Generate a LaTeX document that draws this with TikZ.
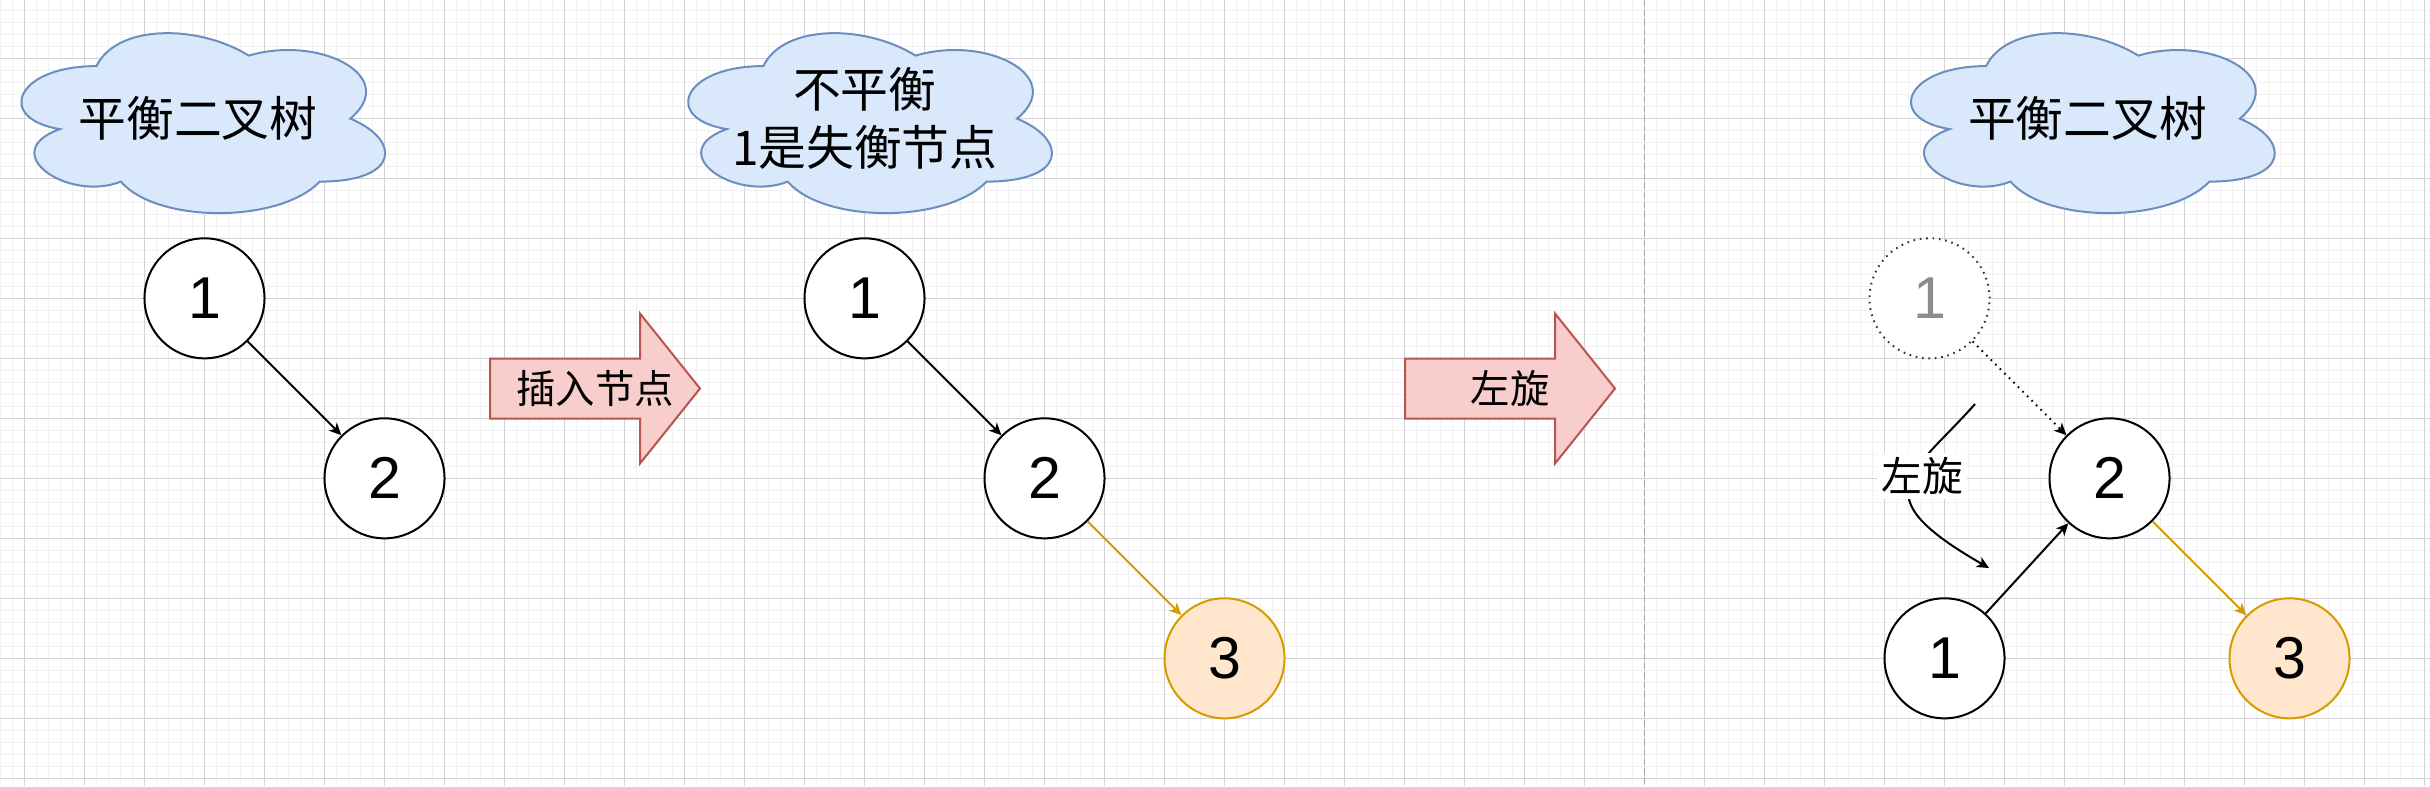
\documentclass[tikz,border=0pt]{standalone}
\usepackage{fontspec}
\setmainfont{Liberation Sans}
\newfontfamily\cjk{Noto Sans CJK SC}
\usepackage{xcolor}
\usetikzlibrary{arrows.meta, positioning}

\definecolor{cloudfill}{HTML}{DAE8FC}
\definecolor{cloudline}{HTML}{6C8EBF}
\definecolor{pinkfill}{HTML}{F8CECC}
\definecolor{pinkline}{HTML}{B85450}
\definecolor{insfill}{HTML}{FFE6CC}
\definecolor{insline}{HTML}{D79B00}
\definecolor{ghostgray}{HTML}{8C8C8C}
\definecolor{gridmajor}{HTML}{D3D3D3}
\definecolor{gridminor}{HTML}{F1F1F1}

\tikzset{
  treenode/.style={circle, draw=black, fill=white, line width=0.025cm, minimum size=1.5cm, inner sep=0pt, font=\fontsize{21}{21}\selectfont},
  insnode/.style={treenode, draw=insline, fill=insfill},
  ghostnode/.style={treenode, draw=black!80, dash pattern=on 0.02cm off 0.06cm, text=ghostgray},
  cloudbox/.style={fill=cloudfill, draw=cloudline, line width=0.025cm},
  cloudtext/.style={align=center, font=\cjk\fontsize{17}{20.6}\selectfont},
  edge/.style={line width=0.025cm, -{Stealth[length=0.15cm, width=0.14cm, inset=0.04cm]}},
  insedge/.style={edge, draw=insline, fill=insline},
  ghostedge/.style={edge, dash pattern=on 0.02cm off 0.06cm},
  bigarrow/.style={fill=pinkfill, draw=pinkline, line width=0.025cm},
  arrowtext/.style={font=\cjk\fontsize{14}{14}\selectfont},
  edgelabel/.style={fill=white, inner sep=0.05cm, font=\cjk\fontsize{14.5}{14.5}\selectfont},
  sepline/.style={draw=black!35, line width=0.02cm, dash pattern=on 0.08cm off 0.04cm},
}

\begin{document}
\begin{tikzpicture}[x=0.0125cm, y=-0.0125cm]
\useasboundingbox (0,0) rectangle (2430,786);
\fill[white] (0,0) rectangle (2430,786);

% Grid
\foreach \k in {0,...,202} \draw[gridminor, line width=0.02cm] ({0.5+12*\k},0) -- ({0.5+12*\k},786);
\foreach \k in {0,...,64} \draw[gridminor, line width=0.02cm] (0,{10.3+12*\k}) -- (2430,{10.3+12*\k});
\foreach \k in {0,...,40} \draw[gridmajor, line width=0.02cm] ({24.5+60*\k},0) -- ({24.5+60*\k},786);
\foreach \k in {0,...,12} \draw[gridmajor, line width=0.02cm] (0,{58.3+60*\k}) -- (2430,{58.3+60*\k});

% Separator
\draw[sepline] (1644.5,0) -- (1644.5,786);

% Clouds
\foreach \cx in {-5, 661.8, 1884.6} {
\begin{scope}[shift={(\cx,13.6)}, xscale=406, yscale=210]
\filldraw[cloudbox] (0.25,0.25) .. controls (0.05,0.25) and (0,0.5) .. (0.16,0.55)
  .. controls (0,0.66) and (0.18,0.9) .. (0.31,0.8)
  .. controls (0.4,1) and (0.7,1) .. (0.8,0.8)
  .. controls (1,0.8) and (1,0.6) .. (0.875,0.5)
  .. controls (1,0.3) and (0.8,0.1) .. (0.625,0.2)
  .. controls (0.5,0.05) and (0.3,0.05) .. (0.25,0.25) -- cycle;
\end{scope}
}
\node[cloudtext] (cloudA) at (198,118.6) {平衡二叉树};
\node[cloudtext] (cloudB) at (864.8,118.6) {不平衡\\1是失衡节点};
\node[cloudtext] (cloudC) at (2087.6,118.6) {平衡二叉树};

% Balanced tree
\node[treenode] (a1) at (204.5,298.3) {1};
\node[treenode] (a2) at (384.5,478.3) {2};
\draw[edge] (a1) -- (a2);

% Insert arrow
\filldraw[bigarrow] (490,358.5) -- (640,358.5) -- (640,313.5) -- (700,388.5) -- (640,463.5) -- (640,418.5) -- (490,418.5) -- cycle;
\node[arrowtext] (insert) at (595,388.5) {插入节点};

% Unbalanced tree
\node[treenode] (b1) at (864.5,298.3) {1};
\node[treenode] (b2) at (1044.5,478.3) {2};
\node[insnode] (b3) at (1224.5,658.3) {3};
\draw[edge] (b1) -- (b2);
\draw[insedge] (b2) -- (b3);

% Rotate arrow
\filldraw[bigarrow] (1405,358.5) -- (1555,358.5) -- (1555,313.5) -- (1615,388.5) -- (1555,463.5) -- (1555,418.5) -- (1405,418.5) -- cycle;
\node[arrowtext] (rotate) at (1510,388.5) {左旋};

% After left rotation
\node[ghostnode] (c1old) at (1929.5,298.3) {1};
\node[treenode] (c2) at (2109.5,478.3) {2};
\node[treenode] (c1) at (1944.5,658.3) {1};
\node[insnode] (c3) at (2289.5,658.3) {3};
\draw[ghostedge] (c1old) -- (c2);
\draw[edge] (c1) -- (c2);
\draw[insedge] (c2) -- (c3);

% Rotation hint
\coordinate (rotS) at (1975,404);
\coordinate (rotE) at (1989,568);
\draw[edge] (rotS) .. controls (1912,475) and (1860,494) .. (rotE)
  node[edgelabel, pos=0.5, xshift=0.15cm, yshift=0.11cm] (rotlabel) {左旋};

\end{tikzpicture}
\end{document}
